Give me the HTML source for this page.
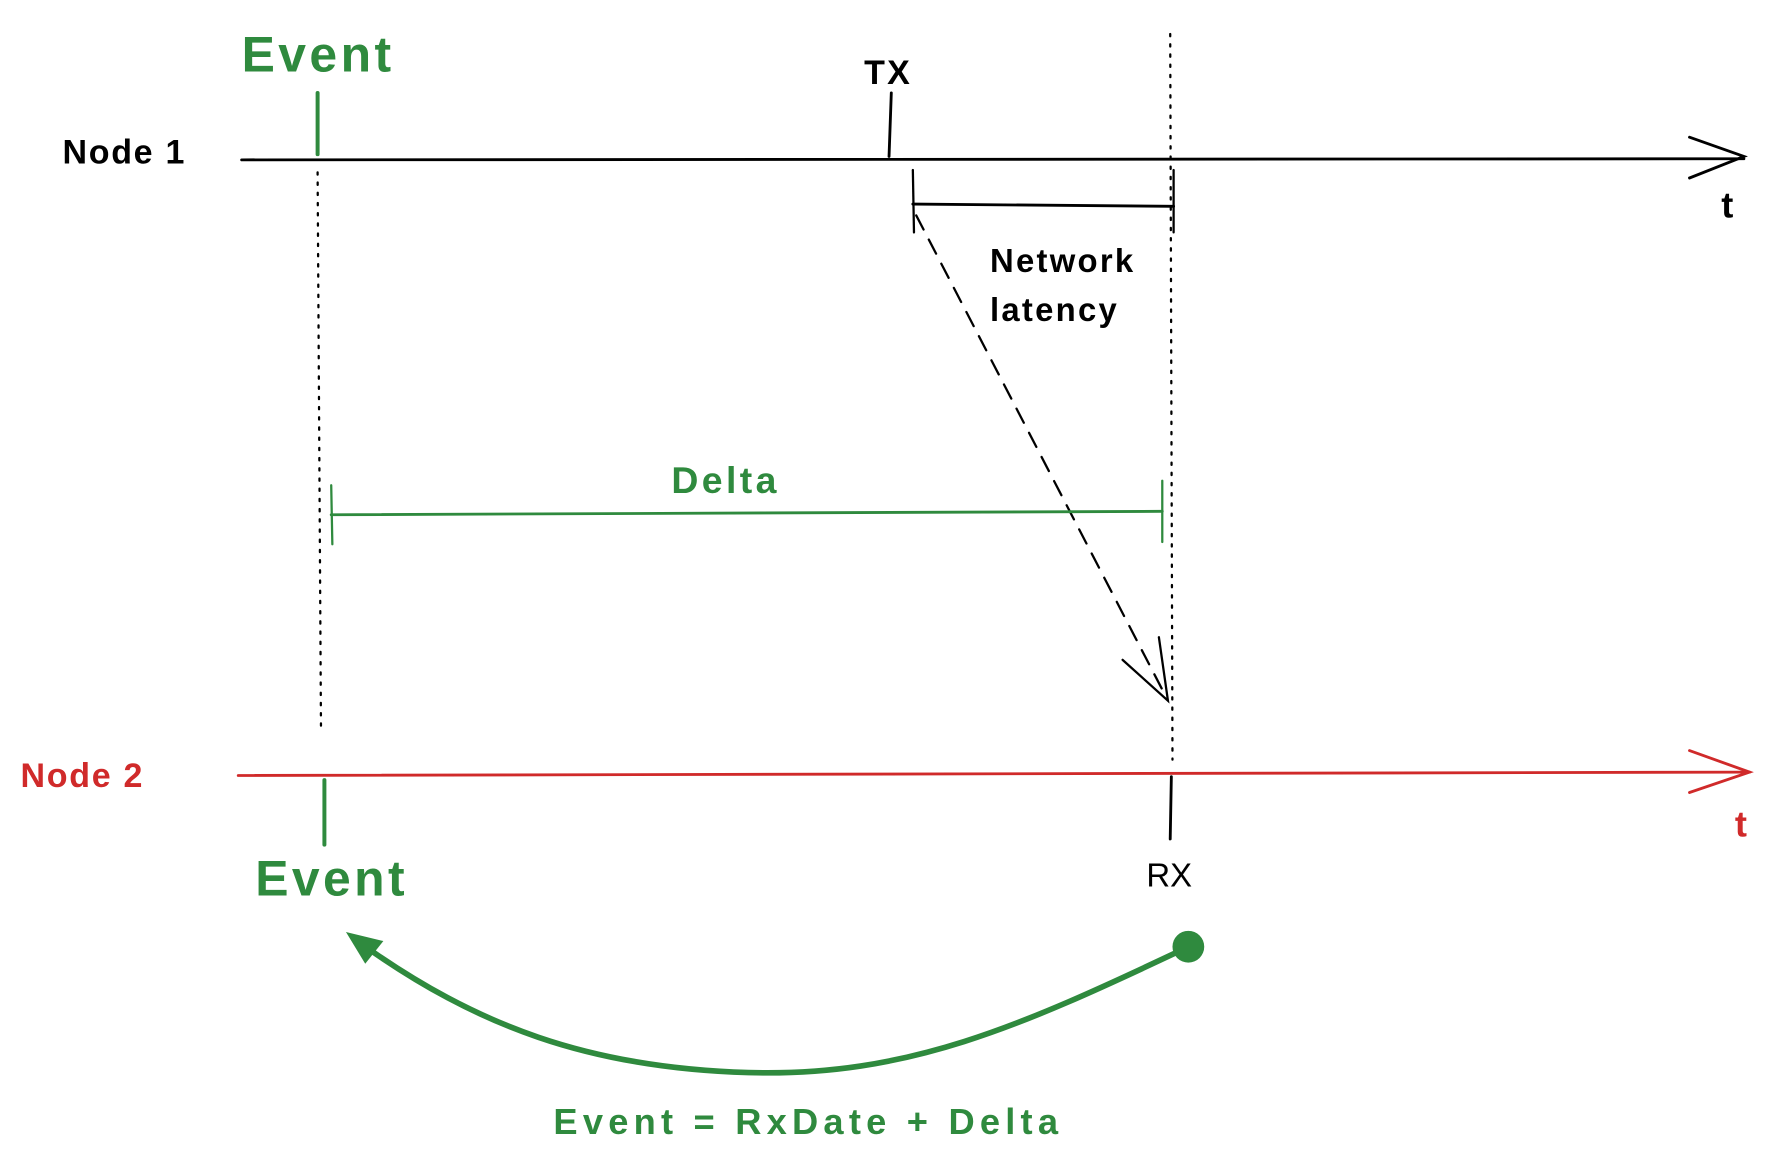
<!DOCTYPE html>
<html><head><meta charset="utf-8"><style>
html,body{margin:0;padding:0;background:#fff;}
svg{display:block;}
text{font-family:"Liberation Sans",sans-serif;}
</style></head><body>
<svg width="1769" height="1161" viewBox="0 0 1560 1024" xmlns="http://www.w3.org/2000/svg">
<g fill="none" stroke-linecap="round">
<line x1="213" y1="141" x2="1538" y2="140" stroke="#000" stroke-width="2.5"/>
<polyline points="1490,121 1538,138 1490,157" stroke="#000" stroke-width="2.5"/>
<line x1="280" y1="82" x2="280" y2="136" stroke="#2f8a3e" stroke-width="3.5"/>
<line x1="786" y1="82" x2="784" y2="138" stroke="#000" stroke-width="2.5"/>
<line x1="280" y1="152" x2="283" y2="645" stroke="#000" stroke-width="2" stroke-dasharray="2,7"/>
<line x1="1032" y1="30" x2="1034" y2="670" stroke="#000" stroke-width="2" stroke-dasharray="2,7"/>
<line x1="805" y1="150" x2="806" y2="205" stroke="#000" stroke-width="2"/>
<line x1="1035" y1="150" x2="1035" y2="205" stroke="#000" stroke-width="2"/>
<line x1="805" y1="180" x2="1035" y2="182" stroke="#000" stroke-width="2.5"/>
<line x1="808" y1="190" x2="1028" y2="614" stroke="#000" stroke-width="2" stroke-dasharray="14,10"/>
<polyline points="990,582 1030,618 1022,562" stroke="#000" stroke-width="2"/>
<line x1="292" y1="454" x2="1025" y2="451" stroke="#2f8a3e" stroke-width="2.5"/>
<line x1="292" y1="428" x2="293" y2="480" stroke="#2f8a3e" stroke-width="2"/>
<line x1="1025" y1="424" x2="1025" y2="478" stroke="#2f8a3e" stroke-width="2"/>
<line x1="210" y1="684" x2="1543" y2="681" stroke="#d02a2a" stroke-width="2.5"/>
<polyline points="1490,662 1543,681 1490,699" stroke="#d02a2a" stroke-width="2.5"/>
<line x1="286" y1="688" x2="286" y2="745" stroke="#2f8a3e" stroke-width="3.5"/>
<line x1="1033" y1="685" x2="1032" y2="740" stroke="#000" stroke-width="2.5"/>
<path d="M1042,838 C900,905 800,950 660,946 C520,942 420,905 318,832" stroke="#2f8a3e" stroke-width="5"/>
</g>
<polygon points="305,822 338,830 322,850" fill="#2f8a3e"/>
<circle cx="1048" cy="835" r="14" fill="#2f8a3e"/>
<g font-weight="bold">
<text x="213" y="63" font-size="44" fill="#2f8a3e" letter-spacing="3">Event</text>
<text x="55" y="144" font-size="30" fill="#000" letter-spacing="1.5">Node 1</text>
<text x="762" y="74" font-size="30" fill="#000" letter-spacing="2">TX</text>
<text x="1518" y="192" font-size="32" fill="#000">t</text>
<text x="873" y="240" font-size="29" fill="#000" letter-spacing="2">Network</text>
<text x="873" y="283" font-size="29" fill="#000" letter-spacing="2">latency</text>
<text x="592" y="435" font-size="33" fill="#2f8a3e" letter-spacing="3">Delta</text>
<text x="18" y="694" font-size="30" fill="#d02a2a" letter-spacing="1.5">Node 2</text>
<text x="1530" y="738" font-size="32" fill="#d02a2a">t</text>
<text x="225" y="790" font-size="44" fill="#2f8a3e" letter-spacing="3">Event</text>
<text x="1011" y="782" font-size="29" fill="#000" font-weight="normal">RX</text>
<text x="488" y="1000" font-size="32" fill="#2f8a3e" letter-spacing="4.6">Event = RxDate + Delta</text>
</g>
</svg>
</body></html>
